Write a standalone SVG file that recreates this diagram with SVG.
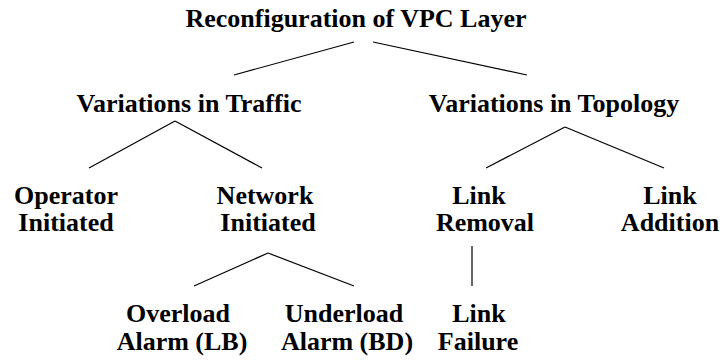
<svg xmlns="http://www.w3.org/2000/svg" width="720" height="360" viewBox="0 0 720 360">
<style>
text{font-family:"Liberation Serif","Times New Roman",serif;font-weight:bold;font-size:26px;fill:#000;text-anchor:middle}
line{stroke:#000;stroke-width:1.2}
</style>
<rect width="720" height="360" fill="#fff"/>
<g id="connectors">
<line x1="354" y1="42" x2="234" y2="75"/>
<line x1="373" y1="42" x2="527" y2="75"/>
<line x1="175" y1="121" x2="89" y2="168"/>
<line x1="175" y1="121" x2="262" y2="168"/>
<line x1="565" y1="127" x2="486" y2="168"/>
<line x1="565" y1="127" x2="664" y2="168"/>
<line x1="268" y1="253" x2="194" y2="286"/>
<line x1="268" y1="253" x2="354" y2="286"/>
<line x1="472" y1="246" x2="472" y2="286"/>
</g>
<g id="root"><text x="356" y="27">Reconfiguration of VPC Layer</text></g>
<g id="traffic"><text x="189" y="112">Variations in Traffic</text></g>
<g id="topology"><text x="554" y="112">Variations in Topology</text></g>
<g id="operator"><text x="66" y="204">Operator</text><text x="66" y="231">Initiated</text></g>
<g id="network"><text x="265" y="204">Network</text><text x="268" y="231">Initiated</text></g>
<g id="removal"><text x="479" y="204">Link</text><text x="485" y="231">Removal</text></g>
<g id="addition"><text x="670" y="204">Link</text><text x="670" y="231">Addition</text></g>
<g id="overload"><text x="178" y="322">Overload</text><text x="182" y="350">Alarm (LB)</text></g>
<g id="underload"><text x="344" y="322">Underload</text><text x="347" y="350">Alarm (BD)</text></g>
<g id="failure"><text x="479" y="322">Link</text><text x="478" y="350">Failure</text></g>
</svg>
